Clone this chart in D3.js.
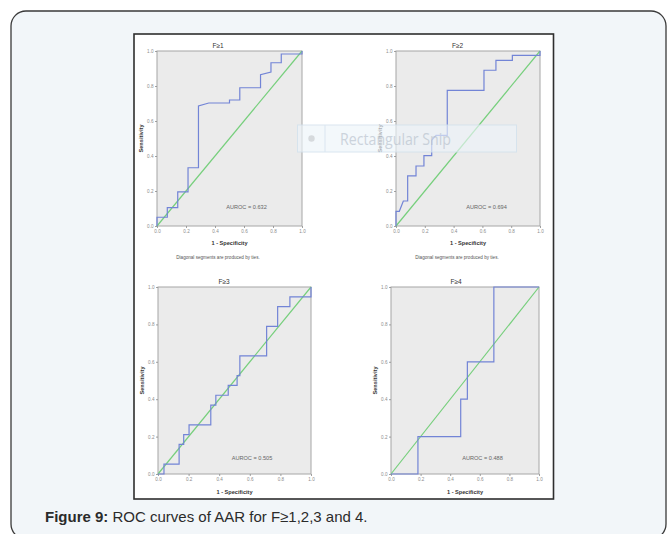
<!DOCTYPE html>
<html>
<head>
<meta charset="utf-8">
<script src="https://cdn.jsdelivr.net/npm/d3@7/dist/d3.min.js"></script>
<style>
  html, body { margin: 0; padding: 0; background: #ffffff; }
  svg { display: block; }
</style>
</head>
<body>
<svg id="fig" width="667" height="534"></svg>
<script>
// ROC curves of AAR for fibrosis stages F>=1, F>=2, F>=3 and F=4
const panelTitles = ["F\u22651", "F\u22652", "F\u22653", "F\u22654"];
const aurocLabels = ["AUROC = 0.632", "AUROC = 0.694", "AUROC = 0.505", "AUROC = 0.488"];
const tickValues = [0, 0.2, 0.4, 0.6, 0.8, 1.0];

// (1 - specificity, sensitivity) vertices of each empirical ROC curve
const roc1Fpr = [0, 0, 0.071, 0.071, 0.143, 0.143, 0.214, 0.214, 0.286, 0.286, 0.357, 0.5, 0.5, 0.571, 0.571, 0.714, 0.714, 0.786, 0.786, 0.857, 0.857, 1, 1];
const roc1Tpr = [0, 0.05, 0.05, 0.105, 0.105, 0.195, 0.195, 0.333, 0.333, 0.686, 0.703, 0.703, 0.72, 0.72, 0.79, 0.79, 0.865, 0.88, 0.933, 0.933, 0.983, 0.983, 1];

const roc2Fpr = [0, 0, 0.023, 0.051, 0.081, 0.081, 0.139, 0.139, 0.194, 0.194, 0.248, 0.248, 0.278, 0.356, 0.356, 0.611, 0.611, 0.694, 0.694, 0.808, 0.808, 1, 1];
const roc2Tpr = [0, 0.084, 0.084, 0.143, 0.143, 0.286, 0.286, 0.343, 0.343, 0.402, 0.402, 0.49, 0.518, 0.518, 0.775, 0.775, 0.89, 0.89, 0.947, 0.947, 0.975, 0.975, 1];

const roc3Fpr = [0, 0.039, 0.039, 0.138, 0.138, 0.168, 0.168, 0.203, 0.203, 0.345, 0.345, 0.378, 0.378, 0.459, 0.459, 0.517, 0.517, 0.535, 0.535, 0.71, 0.71, 0.782, 0.782, 0.862, 0.862, 1, 1];
const roc3Tpr = [0, 0, 0.053, 0.053, 0.158, 0.158, 0.211, 0.211, 0.263, 0.263, 0.368, 0.368, 0.421, 0.421, 0.474, 0.474, 0.526, 0.526, 0.632, 0.632, 0.789, 0.789, 0.895, 0.895, 0.947, 0.947, 1];

const roc4Fpr = [0, 0.182, 0.182, 0.471, 0.471, 0.516, 0.516, 0.695, 0.695, 1];
const roc4Tpr = [0, 0, 0.2, 0.2, 0.4, 0.4, 0.6, 0.6, 1, 1];

const rocFpr = [roc1Fpr, roc2Fpr, roc3Fpr, roc4Fpr];
const rocTpr = [roc1Tpr, roc2Tpr, roc3Tpr, roc4Tpr];
const showTiesNote = [true, true, false, false];

const svg = d3.select("#fig");
const FONT = "'Liberation Sans', Arial, sans-serif";

// page card
svg.append("rect")
  .attr("x", 11).attr("y", 11).attr("width", 655).attr("height", 528)
  .attr("rx", 15).attr("ry", 15)
  .attr("fill", "#f2f6f9").attr("stroke", "#3a3a3a").attr("stroke-width", 1.3);

// white figure sheet
svg.append("rect")
  .attr("x", 134).attr("y", 34).attr("width", 419.5).attr("height", 465)
  .attr("fill", "#ffffff").attr("stroke", "#2e2e2e").attr("stroke-width", 1.6);

// plot frames: [left, right, top, bottom]
const frames = [
  [157, 302, 51, 226],
  [396, 540, 51, 226],
  [158, 311, 287, 474],
  [391, 539, 287, 474]
];
// text anchors per panel
const layout = [
  { title: [218, 48], sens: 142.5, spec: 245, note: [218, 258.5], auroc: [246.5, 209] },
  { title: [457.5, 48], sens: 382, spec: 245, note: [457, 258.5], auroc: [486.5, 209] },
  { title: [224, 284], sens: 143.5, spec: 493.5, note: null, auroc: [252, 460] },
  { title: [456, 284], sens: 377, spec: 493.5, note: null, auroc: [482.5, 460] }
];

frames.forEach((f, i) => {
  const [l, r, t, b] = f;
  const x = d3.scaleLinear().domain([0, 1]).range([l, r]);
  const y = d3.scaleLinear().domain([0, 1]).range([b, t]);
  const g = svg.append("g");
  const L = layout[i];

  g.append("rect")
    .attr("x", x(0)).attr("y", y(1))
    .attr("width", x(1) - x(0)).attr("height", y(0) - y(1))
    .attr("fill", "#ebebeb").attr("stroke", "#a6a6a6").attr("stroke-width", 1);

  const xAxis = d3.axisBottom(x).tickValues(tickValues).tickFormat(d3.format(".1f")).tickSize(2).tickPadding(2);
  const yAxis = d3.axisLeft(y).tickValues(tickValues).tickFormat(d3.format(".1f")).tickSize(2).tickPadding(1.5);

  const gx = g.append("g").attr("transform", `translate(0,${y(0)})`).call(xAxis);
  const gy = g.append("g").attr("transform", `translate(${x(0)},0)`).call(yAxis);
  [gx, gy].forEach(a => {
    a.select(".domain").remove();
    a.selectAll("line").attr("stroke", "#8a8a8a").attr("stroke-width", 0.8);
    a.selectAll("text").attr("fill", "#8c8c8c").attr("font-size", 4.6).attr("font-family", FONT);
  });

  // reference diagonal
  g.append("line")
    .attr("x1", x(0)).attr("y1", y(0)).attr("x2", x(1)).attr("y2", y(1))
    .attr("stroke", "#76cf7c").attr("stroke-width", 1.2);

  // ROC curve
  const pts = rocFpr[i].map((v, k) => [v, rocTpr[i][k]]);
  g.append("path")
    .attr("d", d3.line().x(d => x(d[0])).y(d => y(d[1]))(pts))
    .attr("fill", "none").attr("stroke", "#7284d6").attr("stroke-width", 1.2);

  g.append("text")
    .attr("x", L.title[0]).attr("y", L.title[1])
    .attr("text-anchor", "middle").attr("font-size", 6.5).attr("font-family", FONT)
    .attr("fill", "#333").text(panelTitles[i]);

  g.append("text")
    .attr("transform", `translate(${L.sens},${(t + b) / 2}) rotate(-90)`)
    .attr("text-anchor", "middle").attr("font-size", 5.6).attr("font-weight", "bold")
    .attr("font-family", FONT).attr("fill", "#333").text("Sensitivity");

  g.append("text")
    .attr("x", (l + r) / 2).attr("y", L.spec)
    .attr("text-anchor", "middle").attr("font-size", 5.6).attr("font-weight", "bold")
    .attr("font-family", FONT).attr("fill", "#333").text("1 - Specificity");

  if (showTiesNote[i]) {
    g.append("text")
      .attr("x", L.note[0]).attr("y", L.note[1])
      .attr("text-anchor", "middle").attr("font-size", 4.6).attr("font-family", FONT)
      .attr("fill", "#555").text("Diagonal segments are produced by ties.");
  }

  g.append("text")
    .attr("x", L.auroc[0]).attr("y", L.auroc[1])
    .attr("text-anchor", "middle").attr("font-size", 5.6).attr("font-family", FONT)
    .attr("fill", "#666").text(aurocLabels[i]);
});

// floating snipping-tool bar left over on the figure
const snip = svg.append("g").attr("opacity", 0.85);
snip.append("rect")
  .attr("x", 297.5).attr("y", 125).attr("width", 219).attr("height", 27)
  .attr("fill", "#eef4f9").attr("fill-opacity", 0.75)
  .attr("stroke", "#d3e2ee").attr("stroke-width", 1);
snip.append("line")
  .attr("x1", 325).attr("y1", 125).attr("x2", 325).attr("y2", 152)
  .attr("stroke", "#d3e2ee").attr("stroke-width", 1);
snip.append("circle")
  .attr("cx", 311.5).attr("cy", 138.5).attr("r", 3.2).attr("fill", "#d0d4d8");
snip.append("text")
  .attr("x", 340).attr("y", 144.5)
  .attr("font-size", 16).attr("font-family", "'Open Sans', sans-serif")
  .attr("fill", "#c3ccd6").attr("textLength", 111).attr("lengthAdjust", "spacingAndGlyphs")
  .text("Rectangular Snip");

// caption
const cap = svg.append("text")
  .attr("x", 45).attr("y", 522)
  .attr("font-size", 15).attr("font-family", FONT).attr("fill", "#2b2b2b");
cap.append("tspan").attr("font-weight", "bold").text("Figure 9:");
cap.append("tspan").text(" ROC curves of AAR for F\u22651,2,3 and 4.");
</script>
</body>
</html>
